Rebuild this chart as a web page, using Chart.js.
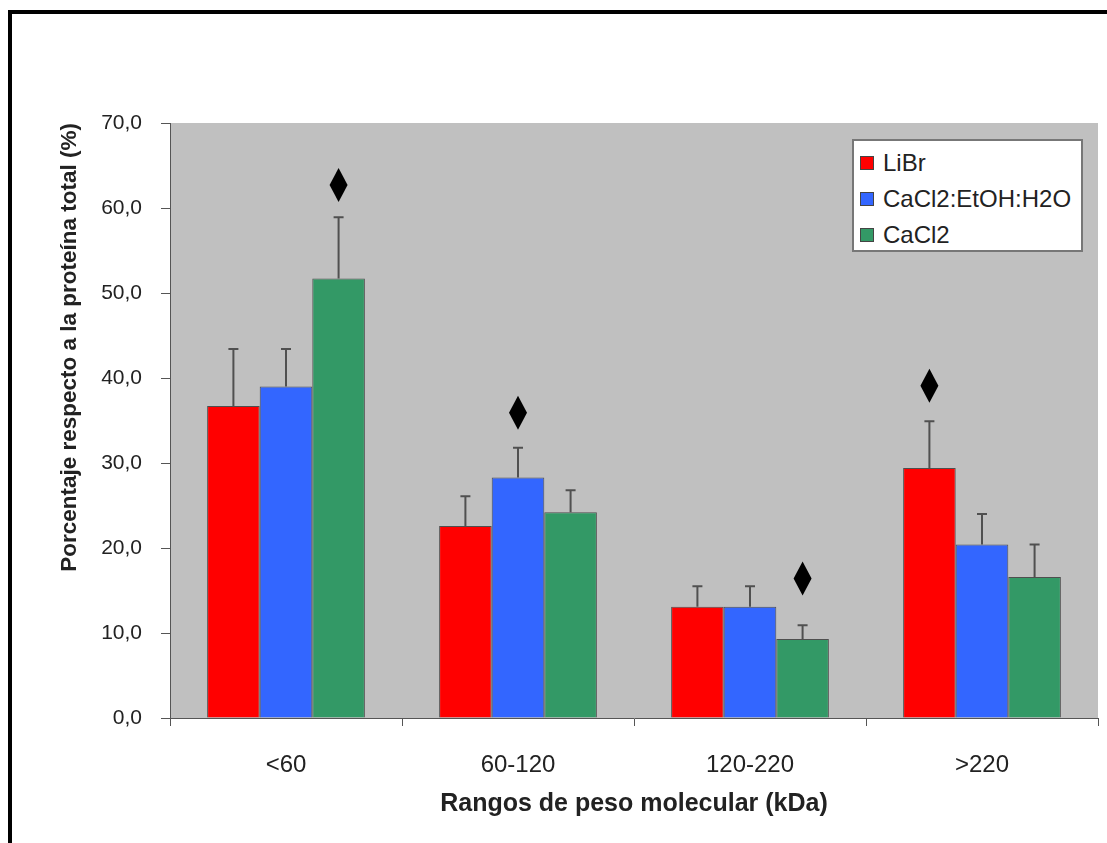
<!DOCTYPE html>
<html>
<head>
<meta charset="utf-8">
<script src="https://cdn.jsdelivr.net/npm/chart.js@4/dist/chart.umd.min.js"></script>
<style>
  body { margin: 0; background: #fff; }
  #wrap { position: relative; width: 1107px; height: 843px; overflow: hidden; }
  #marco { position: absolute; left: 8px; top: 10px; width: 1200px; height: 900px;
           border-left: 4px solid #000; border-top: 4px solid #000; }
  #leyenda { position: absolute; left: 852px; top: 139px; width: 227px; height: 109px;
             background: #fff; border: 2px solid #777; font-family: 'Liberation Sans', Arial, sans-serif;
             font-size: 24px; color: #222; }
  .item { position: absolute; left: 6px; height: 30px; line-height: 30px; white-space: nowrap; }
  .cuadro { display: inline-block; width: 12px; height: 12px; border: 1px solid #444;
            margin-right: 9px; vertical-align: 1px; }
</style>
</head>
<body>
<div id="wrap">
  <div id="marco"></div>
  <canvas id="myChart" width="1107" height="843"></canvas>
  <div id="leyenda"></div>
</div>
<script>
// rangos de peso molecular
let categorias = ['<60', '60-120', '120-220', '>220']
let series = ['LiBr', 'CaCl2:EtOH:H2O', 'CaCl2']
let colores = ['#ff0000', '#3366ff', '#339966']

let valoresLiBr = [36.7, 22.6, 13.1, 29.4]
let valoresEtOH = [39.0, 28.3, 13.1, 20.4]
let valoresCaCl2 = [51.7, 24.2, 9.3, 16.6]

// desviacion (solo hacia arriba)
let errorLiBr = [6.7, 3.5, 2.4, 5.5]
let errorEtOH = [4.4, 3.5, 2.4, 3.6]
let errorCaCl2 = [7.2, 2.6, 1.6, 3.8]

// rombos de diferencia significativa: serie y altura por categoria
let rombosSerie = [2, 1, 2, 0]
let rombosValor = [62.7, 35.9, 16.4, 39.1]

let valores = [valoresLiBr, valoresEtOH, valoresCaCl2]
let errores = [errorLiBr, errorEtOH, errorCaCl2]

const fuente = "'Liberation Sans', Arial, sans-serif"

/*
    fondo gris del area del grafico
*/
const fondoGris = {
    id: 'fondoGris',
    beforeDraw(chart) {
        const {ctx, chartArea} = chart
        ctx.save()
        ctx.fillStyle = '#c0c0c0'
        ctx.fillRect(chartArea.left, chartArea.top, chartArea.right - chartArea.left, chartArea.bottom - chartArea.top)
        ctx.restore()
    }
}

/*
    barras de error y rombos
*/
const barrasError = {
    id: 'barrasError',
    afterDatasetsDraw(chart) {
        const ctx = chart.ctx
        const y = chart.scales.y
        ctx.save()
        ctx.strokeStyle = '#505050'
        ctx.lineWidth = 2
        for (let i = 0; i < errores.length; i++) {
            let meta = chart.getDatasetMeta(i)
            meta.data.forEach((barra, j) => {
                let yTop = y.getPixelForValue(valores[i][j] + errores[i][j])
                ctx.beginPath()
                ctx.moveTo(barra.x, barra.y)
                ctx.lineTo(barra.x, yTop)
                ctx.moveTo(barra.x - 5, yTop)
                ctx.lineTo(barra.x + 5, yTop)
                ctx.stroke()
            })
        }
        ctx.fillStyle = '#000'
        for (let j = 0; j < rombosSerie.length; j++) {
            let barra = chart.getDatasetMeta(rombosSerie[j]).data[j]
            let cy = y.getPixelForValue(rombosValor[j])
            ctx.beginPath()
            ctx.moveTo(barra.x, cy - 17)
            ctx.lineTo(barra.x + 9, cy)
            ctx.lineTo(barra.x, cy + 17)
            ctx.lineTo(barra.x - 9, cy)
            ctx.closePath()
            ctx.fill()
        }
        ctx.restore()
    }
}

let grafico = document.getElementById('myChart')
let myChart = new Chart(grafico, {
    type: 'bar',
    data: {
        labels: categorias,
        datasets: series.map((s, i) => ({
            label: s,
            data: valores[i],
            backgroundColor: colores[i],
            borderColor: 'rgba(50,50,50,0.8)',
            borderWidth: 1,
            categoryPercentage: 0.68,
            barPercentage: 1.0
        }))
    },
    options: {
        responsive: false,
        animation: false,
        devicePixelRatio: 1,
        layout: { padding: { top: 123, right: 9, bottom: 20, left: 0 } },
        plugins: {
            legend: { display: false },
            tooltip: { enabled: false }
        },
        scales: {
            x: {
                afterFit(scale) { scale.height = 105 },
                grid: { offset: true, drawOnChartArea: false, tickLength: 8, color: '#555' },
                border: { color: '#555', width: 1 },
                ticks: { color: '#222', font: { family: fuente, size: 24 }, padding: 25 },
                title: {
                    display: true,
                    text: 'Rangos de peso molecular (kDa)',
                    color: '#222',
                    font: { family: fuente, size: 25, weight: 'bold' },
                    padding: { top: 4, bottom: 4 }
                }
            },
            y: {
                min: 0,
                max: 70,
                afterFit(scale) { scale.width = 170 },
                grid: { drawOnChartArea: false, tickLength: 9, color: '#555' },
                border: { color: '#555', width: 1 },
                ticks: {
                    stepSize: 10,
                    color: '#222',
                    font: { family: fuente, size: 21 },
                    padding: 19,
                    callback: v => v.toFixed(1).replace('.', ',')
                },
                title: {
                    display: true,
                    text: 'Porcentaje respecto a la proteína total (%)',
                    color: '#222',
                    align: 'end',
                    font: { family: fuente, size: 22.5, weight: 'bold' },
                    padding: { top: 56, bottom: 0 }
                }
            }
        }
    },
    plugins: [fondoGris, barrasError]
})

// leyenda en html
let leyenda = document.getElementById('leyenda')
series.forEach((s, i) => {
    let item = document.createElement('div')
    item.className = 'item'
    item.style.top = (7 + i * 36) + 'px'
    item.innerHTML = '<span class="cuadro" style="background:' + colores[i] + '"></span>' + s
    leyenda.appendChild(item)
})
</script>
</body>
</html>
